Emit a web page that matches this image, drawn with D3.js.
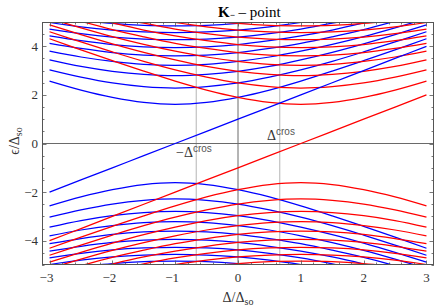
<!DOCTYPE html>
<html>
<head>
<meta charset="utf-8">
<script src="https://cdn.jsdelivr.net/npm/d3@7"></script>
<style>
  html, body { margin: 0; padding: 0; background: #fff; }
  svg { display: block; }
</style>
</head>
<body>
<svg id="chart" width="436" height="308"></svg>
<script>
// ---- data ----
const deltas = [-3, -2.5, -2, -1.5, -1, -0.5, 0, 0.5, 1, 1.5, 2, 2.5, 3];

const blueZeroMode = [-2, -1.5, -1, -0.5, 0, 0.5, 1, 1.5, 2, 2.5, 3, 3.5, 4];
const redZeroMode  = [-4, -3.5, -3, -2.5, -2, -1.5, -1, -0.5, 0, 0.5, 1, 1.5, 2];

const blueUpper = [
  [2.57, 2.20, 1.90, 1.69, 1.61, 1.69, 1.90, 2.20, 2.57, 2.98, 3.41, 3.85, 4.31],
  [3.03, 2.73, 2.49, 2.34, 2.28, 2.34, 2.49, 2.73, 3.03, 3.38, 3.77, 4.18, 4.60],
  [3.44, 3.17, 2.97, 2.84, 2.79, 2.84, 2.97, 3.17, 3.44, 3.75, 4.10, 4.48, 4.88],
  [3.80, 3.56, 3.38, 3.26, 3.22, 3.26, 3.38, 3.56, 3.80, 4.08, 4.40, 4.76, 5.14],
  [4.12, 3.91, 3.74, 3.64, 3.61, 3.64, 3.74, 3.91, 4.12, 4.39, 4.69, 5.03, 5.39],
  [4.43, 4.23, 4.07, 3.98, 3.95, 3.98, 4.07, 4.23, 4.43, 4.67, 4.96, 5.28, 5.62],
  [4.71, 4.52, 4.38, 4.30, 4.27, 4.30, 4.38, 4.52, 4.71, 4.95, 5.22, 5.52, 5.85],
  [4.98, 4.80, 4.67, 4.59, 4.56, 4.59, 4.67, 4.80, 4.98, 5.20, 5.46, 5.75, 6.05],
  [5.23, 5.07, 4.94, 4.86, 4.84, 4.86, 4.94, 5.07, 5.23, 5.45, 5.69, 5.97, 6.28]
];

const redUpper = [
  [4.31, 3.85, 3.41, 2.98, 2.57, 2.20, 1.90, 1.69, 1.61, 1.69, 1.90, 2.20, 2.57],
  [4.60, 4.18, 3.77, 3.38, 3.03, 2.73, 2.49, 2.34, 2.28, 2.34, 2.49, 2.73, 3.03],
  [4.88, 4.48, 4.10, 3.75, 3.44, 3.17, 2.97, 2.84, 2.79, 2.84, 2.97, 3.17, 3.44],
  [5.14, 4.76, 4.40, 4.08, 3.80, 3.56, 3.38, 3.26, 3.22, 3.26, 3.38, 3.56, 3.80],
  [5.39, 5.03, 4.69, 4.39, 4.12, 3.91, 3.74, 3.64, 3.61, 3.64, 3.74, 3.91, 4.12],
  [5.62, 5.28, 4.96, 4.67, 4.43, 4.23, 4.07, 3.98, 3.95, 3.98, 4.07, 4.23, 4.43],
  [5.85, 5.52, 5.22, 4.95, 4.71, 4.52, 4.38, 4.30, 4.27, 4.30, 4.38, 4.52, 4.71],
  [6.05, 5.75, 5.46, 5.20, 4.98, 4.80, 4.67, 4.59, 4.56, 4.59, 4.67, 4.80, 4.98],
  [6.28, 5.97, 5.69, 5.45, 5.23, 5.07, 4.94, 4.86, 4.84, 4.86, 4.94, 5.07, 5.23]
];

const blueLower = [
  [-2.57, -2.20, -1.90, -1.69, -1.61, -1.69, -1.90, -2.20, -2.57, -2.98, -3.41, -3.85, -4.31],
  [-3.03, -2.73, -2.49, -2.34, -2.28, -2.34, -2.49, -2.73, -3.03, -3.38, -3.77, -4.18, -4.60],
  [-3.44, -3.17, -2.97, -2.84, -2.79, -2.84, -2.97, -3.17, -3.44, -3.75, -4.10, -4.48, -4.88],
  [-3.80, -3.56, -3.38, -3.26, -3.22, -3.26, -3.38, -3.56, -3.80, -4.08, -4.40, -4.76, -5.14],
  [-4.12, -3.91, -3.74, -3.64, -3.61, -3.64, -3.74, -3.91, -4.12, -4.39, -4.69, -5.03, -5.39],
  [-4.43, -4.23, -4.07, -3.98, -3.95, -3.98, -4.07, -4.23, -4.43, -4.67, -4.96, -5.28, -5.62],
  [-4.71, -4.52, -4.38, -4.30, -4.27, -4.30, -4.38, -4.52, -4.71, -4.95, -5.22, -5.52, -5.85],
  [-4.98, -4.80, -4.67, -4.59, -4.56, -4.59, -4.67, -4.80, -4.98, -5.20, -5.46, -5.75, -6.05],
  [-5.23, -5.07, -4.94, -4.86, -4.84, -4.86, -4.94, -5.07, -5.23, -5.45, -5.69, -5.97, -6.28]
];

const redLower = [
  [-4.31, -3.85, -3.41, -2.98, -2.57, -2.20, -1.90, -1.69, -1.61, -1.69, -1.90, -2.20, -2.57],
  [-4.60, -4.18, -3.77, -3.38, -3.03, -2.73, -2.49, -2.34, -2.28, -2.34, -2.49, -2.73, -3.03],
  [-4.88, -4.48, -4.10, -3.75, -3.44, -3.17, -2.97, -2.84, -2.79, -2.84, -2.97, -3.17, -3.44],
  [-5.14, -4.76, -4.40, -4.08, -3.80, -3.56, -3.38, -3.26, -3.22, -3.26, -3.38, -3.56, -3.80],
  [-5.39, -5.03, -4.69, -4.39, -4.12, -3.91, -3.74, -3.64, -3.61, -3.64, -3.74, -3.91, -4.12],
  [-5.62, -5.28, -4.96, -4.67, -4.43, -4.23, -4.07, -3.98, -3.95, -3.98, -4.07, -4.23, -4.43],
  [-5.85, -5.52, -5.22, -4.95, -4.71, -4.52, -4.38, -4.30, -4.27, -4.30, -4.38, -4.52, -4.71],
  [-6.05, -5.75, -5.46, -5.20, -4.98, -4.80, -4.67, -4.59, -4.56, -4.59, -4.67, -4.80, -4.98],
  [-6.28, -5.97, -5.69, -5.45, -5.23, -5.07, -4.94, -4.86, -4.84, -4.86, -4.94, -5.07, -5.23]
];

const crossPoints = [-0.665, 0.665];
const xTickLabels = [-3, -2, -1, 0, 1, 2, 3];
const yTickLabels = [-4, -2, 0, 2, 4];

// ---- layout ----
const svg = d3.select("#chart");
const mLeft = 42, mRight = 434, mTop = 22, mBottom = 265;
const x = d3.scaleLinear().domain([-3.12, 3.12]).range([mLeft, mRight]);
const y = d3.scaleLinear().domain([-5, 5]).range([mBottom, mTop]);

svg.append("defs").append("clipPath").attr("id", "clip")
  .append("rect").attr("x", mLeft).attr("y", mTop)
  .attr("width", mRight - mLeft).attr("height", mBottom - mTop);

const plot = svg.append("g").attr("clip-path", "url(#clip)");

// reference lines at ±Δcros
plot.selectAll("line.cros").data(crossPoints).join("line")
  .attr("class", "cros")
  .attr("x1", d => x(d)).attr("x2", d => x(d))
  .attr("y1", mTop).attr("y2", mBottom)
  .attr("stroke", "#b4b4b4").attr("stroke-width", 1);

// axes through origin
plot.append("line").attr("x1", mLeft).attr("x2", mRight)
  .attr("y1", y(0)).attr("y2", y(0)).attr("stroke", "#6a6a6a").attr("stroke-width", 1);
plot.append("line").attr("x1", x(0)).attr("x2", x(0))
  .attr("y1", mTop).attr("y2", mBottom).attr("stroke", "#6a6a6a").attr("stroke-width", 1);

const line = d3.line()
  .x((d, i) => x(deltas[i]))
  .y(d => y(d))
  .curve(d3.curveCatmullRom.alpha(0.5));

function drawSet(arr, color) {
  plot.append("g").selectAll("path").data(arr).join("path")
    .attr("d", line)
    .attr("fill", "none")
    .attr("stroke", color)
    .attr("stroke-width", 1.25);
}
drawSet(blueUpper, "#0000ff");
drawSet(blueLower, "#0000ff");
drawSet(redUpper, "#ff0000");
drawSet(redLower, "#ff0000");
drawSet([blueZeroMode], "#0000ff");
drawSet([redZeroMode], "#ff0000");

// ---- frame & ticks ----
const frameColor = "#555";
svg.append("rect").attr("x", mLeft + 0.5).attr("y", mTop + 0.5)
  .attr("width", mRight - mLeft - 1).attr("height", mBottom - mTop - 1)
  .attr("fill", "none").attr("stroke", frameColor).attr("stroke-width", 1);

const ticks = svg.append("g").attr("stroke", frameColor).attr("stroke-width", 0.8);
const xMinor = d3.range(-15, 16).map(k => k * 0.2);
const yMinor = d3.range(-10, 11).map(k => k * 0.5);
xMinor.forEach(v => {
  const major = Math.abs(v - Math.round(v)) < 1e-6;
  const len = major ? 4.5 : 2.5;
  const px = Math.round(x(v)) + 0.5;
  ticks.append("line").attr("x1", px).attr("x2", px).attr("y1", mBottom).attr("y2", mBottom - len);
  ticks.append("line").attr("x1", px).attr("x2", px).attr("y1", mTop).attr("y2", mTop + len);
});
yMinor.forEach(v => {
  const major = Math.abs(v / 2 - Math.round(v / 2)) < 1e-6;
  const len = major ? 4.5 : 2.5;
  const py = Math.round(y(v)) + 0.5;
  ticks.append("line").attr("y1", py).attr("y2", py).attr("x1", mLeft).attr("x2", mLeft + len);
  ticks.append("line").attr("y1", py).attr("y2", py).attr("x1", mRight).attr("x2", mRight - len);
});

const serif = "'Liberation Serif', 'DejaVu Serif', serif";
const fmt = v => (v < 0 ? "\u2212" + Math.abs(v) : String(v));

svg.append("g").selectAll("text").data(xTickLabels).join("text")
  .attr("x", d => x(d) - (d < 0 ? 3 : 0)).attr("y", 282)
  .attr("text-anchor", "middle")
  .attr("font-family", serif).attr("font-size", 13).attr("fill", "#333")
  .text(fmt);

svg.append("g").selectAll("text").data(yTickLabels).join("text")
  .attr("x", 38).attr("y", d => y(d) + 4.5)
  .attr("text-anchor", "end")
  .attr("font-family", serif).attr("font-size", 13).attr("fill", "#333")
  .text(fmt);

// ---- title ----
const title = svg.append("text").attr("x", 218).attr("y", 17)
  .attr("font-family", serif).attr("font-size", 15).attr("fill", "#000");
title.append("tspan").attr("font-weight", "bold").text("K");
title.append("tspan").attr("font-size", 9).attr("font-weight", "bold").attr("dy", 1).text("\u2212");
title.append("tspan").attr("dy", -1).text(" \u2013 point");

// ---- axis labels ----
const xl = svg.append("text").attr("x", 238).attr("y", 302).attr("text-anchor", "middle")
  .attr("font-family", serif).attr("font-size", 14).attr("fill", "#333");
xl.append("tspan").text("\u0394/\u0394");
xl.append("tspan").attr("font-size", 10).attr("dy", 3).text("so");

const yl = svg.append("text").attr("transform", "translate(19,141) rotate(-90)")
  .attr("text-anchor", "middle")
  .attr("font-family", serif).attr("font-size", 14).attr("fill", "#333");
yl.append("tspan").text("\u03f5/\u0394");
yl.append("tspan").attr("font-size", 10).attr("dy", 3).text("so");

// ---- Δcros annotations ----
const sans = "'Liberation Sans', Arial, sans-serif";
const a1 = svg.append("text").attr("x", 176).attr("y", 156.5)
  .attr("font-family", serif).attr("font-size", 14).attr("fill", "#333");
a1.append("tspan").text("\u2212\u0394");
a1.append("tspan").attr("font-family", sans).attr("font-size", 10).attr("dy", -5).attr("fill", "#555").text("cros");

const a2 = svg.append("text").attr("x", 267).attr("y", 140)
  .attr("font-family", serif).attr("font-size", 14).attr("fill", "#333");
a2.append("tspan").text("\u0394");
a2.append("tspan").attr("font-family", sans).attr("font-size", 10).attr("dy", -5).attr("fill", "#555").text("cros");
</script>
</body>
</html>
